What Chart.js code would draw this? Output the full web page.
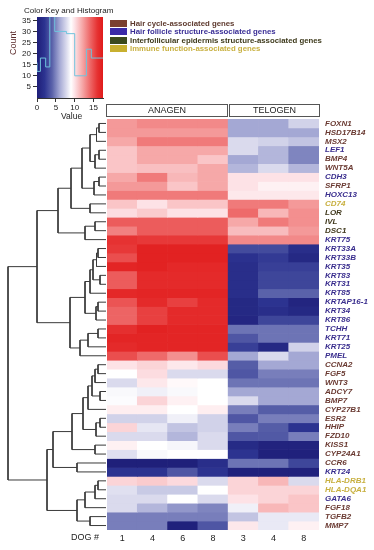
<!DOCTYPE html>
<html>
<head>
<meta charset="utf-8">
<script src="https://cdn.jsdelivr.net/npm/chart.js@4.4.0/dist/chart.umd.min.js"></script>
<style>
  body { margin: 0; width: 374px; height: 550px; position: relative; overflow: hidden; background: #fff;
         font-family: "Liberation Sans", Arial, sans-serif; color: #222; }
  canvas { position: absolute; }
  .t { position: absolute; white-space: nowrap; }
  .lg { position: absolute; left: 110px; height: 8px; display: flex; align-items: center;
        font: bold 7.8px "Liberation Sans", Arial, sans-serif; white-space: nowrap; }
  .sw { display: inline-block; width: 17px; height: 7px; margin-right: 3px; }
  .phase { position: absolute; top: 104px; height: 11px; border: 1px solid #555; text-align: center;
           font: 9px "Liberation Sans", Arial, sans-serif; line-height: 11px; }
</style>
</head>
<body>
<canvas id="key" width="112" height="122" style="left:0;top:0"></canvas>
<canvas id="dendro" width="107" height="455" style="left:0;top:95px"></canvas>
<canvas id="heat" width="267" height="455" style="left:107px;top:95px"></canvas>

<div class="t" style="left:24px;top:6px;font-size:8px">Color Key and Histogram</div>
<div class="t" style="left:1px;top:38px;font-size:9px;color:#5a2a2a;transform:rotate(-90deg)">Count</div>
<div class="t" style="left:61px;top:111px;font-size:8.5px">Value</div>

<div class="lg" style="top:19px"><span class="sw" style="background:#7a4030"></span><span style="color:#5e3a2e">Hair cycle-associated genes</span></div>
<div class="lg" style="top:27.5px"><span class="sw" style="background:#3a2aa8"></span><span style="color:#3a2e96">Hair follicle structure-associated genes</span></div>
<div class="lg" style="top:36px"><span class="sw" style="background:#3b4a1e"></span><span style="color:#3e3a1c">Interfollicular epidermis structure-associated genes</span></div>
<div class="lg" style="top:44.5px"><span class="sw" style="background:#c8b030"></span><span style="color:#c8b040">Immune function-associated genes</span></div>

<div class="phase" style="left:106px;width:120px">ANAGEN</div>
<div class="phase" style="left:229px;width:89px">TELOGEN</div>
<div class="t" style="left:71px;top:532px;font-size:9px">DOG #</div>

<script>
// column labels (dogs), 4 anagen + 3 telogen
const dogIds = ["1", "4", "6", "8", "3", "4", "8"];

const genes = [
  "FOXN1", "HSD17B14", "MSX2", "LEF1", "BMP4", "WNT5A", "CDH3", "SFRP1", "HOXC13", "CD74",
  "LOR", "IVL", "DSC1", "KRT75", "KRT33A", "KRT33B", "KRT35", "KRT83", "KRT31", "KRT85",
  "KRTAP16-1", "KRT34", "KRT86", "TCHH", "KRT71", "KRT25", "PMEL", "CCNA2", "FGF5", "WNT3",
  "ADCY7", "BMP7", "CYP27B1", "ESR2", "HHIP", "FZD10", "KISS1", "CYP24A1", "CCR6", "KRT24",
  "HLA-DRB1", "HLA-DQA1", "GATA6", "FGF18", "TGFB2", "MMP7"
];

const geneGroup = [
  "cycle", "cycle", "cycle", "follicle", "cycle", "cycle", "follicle", "cycle", "follicle", "immune",
  "epi", "epi", "epi", "follicle", "follicle", "follicle", "follicle", "follicle", "follicle", "follicle",
  "follicle", "follicle", "follicle", "follicle", "follicle", "follicle", "follicle", "cycle", "cycle", "cycle",
  "cycle", "cycle", "cycle", "cycle", "cycle", "cycle", "cycle", "cycle", "cycle", "follicle",
  "immune", "immune", "follicle", "cycle", "cycle", "cycle"
];

// expression per gene, columns follow dogIds
const expression = [
  [12.5, 13, 13, 13, 6, 6, 7.5],
  [12.5, 12.5, 12.5, 12.5, 6, 6, 6],
  [12, 13.5, 13.5, 13.5, 7.8, 7.5, 7],
  [11, 12, 12, 12, 7.8, 6.5, 5],
  [11, 12, 12, 11, 6, 6.5, 5],
  [11, 11.2, 11.2, 12, 6.5, 7.8, 6.5],
  [12, 13.5, 11.5, 12, 10, 10, 10],
  [12.5, 12.5, 11, 12, 10, 9.5, 9.5],
  [13.5, 13.5, 13.5, 13.5, 9.8, 9.8, 9.8],
  [11, 10, 11, 11, 13.5, 13.5, 12.5],
  [10.2, 10.8, 10, 10, 14, 11.5, 12.8],
  [14.5, 14.5, 14.5, 14.5, 12, 13.5, 12.8],
  [13.3, 14.5, 14.5, 14.5, 11.3, 11.3, 12.5],
  [16, 15.8, 15.8, 15.8, 13, 13, 13],
  [15.8, 17, 17, 17, 3, 3, 1.5],
  [15, 17, 17, 17, 1.8, 2.3, 1],
  [16.8, 17, 16.6, 16.6, 1.5, 2.5, 2.5],
  [14.5, 16.5, 16.5, 16.5, 1.5, 2.8, 2.8],
  [14.5, 16.5, 16.5, 16.5, 1.5, 2.8, 2.8],
  [16.6, 16.8, 16.8, 16.8, 1.5, 4, 4],
  [14.8, 16.5, 15.5, 16.5, 1, 2, 0.7],
  [14.2, 15.5, 16.5, 16.5, 1, 1.5, 1],
  [14.2, 15.5, 16.5, 16.5, 0.8, 2.8, 2.8],
  [16.2, 17, 16.8, 16.8, 4.5, 4.5, 4.5],
  [16.8, 16.8, 16.8, 16.8, 3.5, 4.5, 4.5],
  [16.5, 16.8, 16.8, 16.8, 2.5, 1, 7.5],
  [15, 14, 12.8, 15, 6, 7.8, 6],
  [10, 10.5, 9.8, 10.3, 3.8, 6, 6],
  [9, 10.2, 7.8, 7.8, 3.5, 4.8, 4.8],
  [7.8, 9.8, 9.2, 9, 4.5, 4.5, 4.5],
  [8.8, 8.5, 8.8, 9, 6, 6, 6],
  [8.9, 10.5, 9.5, 9, 7.8, 6, 6],
  [9.6, 9.6, 9, 9.6, 4.8, 3.8, 3.8],
  [7.5, 7.5, 8.5, 7.5, 3.5, 4.8, 4.8],
  [10.5, 8.2, 7, 7.5, 4.8, 3.8, 2],
  [7.8, 7.8, 6.5, 7.8, 3.5, 3.6, 4.8],
  [9.5, 9, 8.7, 7.8, 1.2, 0.5, 0.5],
  [8, 8.8, 9, 9, 2, 0.3, 0.3],
  [0.2, 0.2, 0.2, 1.5, 4.5, 4.5, 2.8],
  [2, 2, 3.5, 2, 0.3, 0.3, 0.3],
  [10.5, 10.8, 10.3, 7.8, 10.5, 11.5, 7.8],
  [8, 7.2, 7.2, 9, 10.5, 10.5, 10.5],
  [7.8, 7.8, 9, 7.8, 10, 10.5, 11],
  [7.8, 6.5, 5.5, 5, 8.5, 11.5, 11],
  [4.8, 4.8, 4.8, 4.8, 7, 8.3, 8.3],
  [4.8, 4.8, 0.3, 3.5, 9.8, 8.3, 9.5]
];

// row dendrogram: [left, right, height], leaves are row indexes
const rowTree = [
  [
    [
      [
        [
          [[[0, 1, 7], 2, 9.5], [[3, 4, 7], 5, 11], 16],
          [[6, 7, 7], 8, 12], 24
        ],
        [9, 10, 16], 35
      ],
      [[11, 12, 11], 13, 21], 48
    ],
    [
      [[[[[14, 15, 8], 16, 9.5], [17, 18, 6], 13], 19, 16], [[20, 21, 8], 22, 10], 21],
      [[[23, 24, 8], 25, 18], 26, 26], 36
    ],
    69
  ],
  [
    [
      [
        [[[[[27, 28, 8], 29, 11], [30, 31, 6], 14], 32, 18], [[33, 34, 6], 35, 10], 23],
        [36, 37, 11], 34
      ],
      [38, 39, 29], 53
    ],
    [[[[40, 41, 8], 42, 11], 43, 21], [44, 45, 16], 29],
    59
  ],
  98
];

// histogram of the colour key
const histEdges = [0, 0.9, 2.3, 3.4, 4.7, 7.8, 10.0, 13.1, 14.4, 15.9, 17.5];
const histCounts = [16, 12, 18, 14, 40, 30, 29, 10, 22, 18];
const keyTicksX = [0, 5, 10, 15];
const keyTicksY = [5, 10, 15, 20, 25, 30, 35];

const palette = [
  [0, "#1e1e78"], [2, "#2c3390"], [4, "#5a62aa"], [6, "#a4a8d4"], [8, "#e0e0f0"],
  [9, "#ffffff"], [10, "#fde2e6"], [12, "#f6a8a8"], [14, "#ee6a6a"], [16, "#e63232"], [17.5, "#e01a1a"]
];
const groupColors = { cycle: "#6a3a32", follicle: "#3a2e8e", epi: "#40381c", immune: "#c8b040" };
const FONT = "'Liberation Sans', Arial, sans-serif";

function hexToRgb(h) {
  return [1, 3, 5].map((i) => parseInt(h.slice(i, i + 2), 16));
}
function valueColor(v) {
  for (let i = 1; i < palette.length; i++) {
    if (v <= palette[i][0] || i === palette.length - 1) {
      const [v0, c0] = palette[i - 1];
      const [v1, c1] = palette[i];
      const t = Math.max(0, Math.min(1, (v - v0) / (v1 - v0)));
      const a = hexToRgb(c0), b = hexToRgb(c1);
      return "rgb(" + a.map((x, k) => Math.round(x + (b[k] - x) * t)).join(",") + ")";
    }
  }
}

// ---- colour key + histogram
new Chart(document.getElementById("key"), {
  type: "line",
  data: {
    datasets: [
      {
        data: histEdges.map((e, i) => ({ x: e, y: histCounts[Math.min(i, histCounts.length - 1)] })),
        stepped: "after",
        borderColor: "#6fc3dd",
        borderWidth: 1,
        pointRadius: 0,
        fill: false,
        order: 1,
      },
      {
        data: [{ x: 0, y: 36.5 }, { x: 17.5, y: 36.5 }],
        fill: "origin",
        borderWidth: 0,
        pointRadius: 0,
        order: 2,
        backgroundColor: (ctx) => {
          const area = ctx.chart.chartArea;
          if (!area) return "#ccc";
          const xs = ctx.chart.scales.x;
          const g = ctx.chart.ctx.createLinearGradient(area.left, 0, area.right, 0);
          palette.forEach(([v, c]) => {
            g.addColorStop((xs.getPixelForValue(v) - area.left) / (area.right - area.left), c);
          });
          return g;
        },
      },
    ],
  },
  options: {
    responsive: false,
    animation: false,
    layout: { padding: { top: 17, right: 9, left: 0, bottom: 0 } },
    plugins: { legend: { display: false }, tooltip: { enabled: false } },
    scales: {
      x: {
        type: "linear",
        min: 0,
        max: 17.5,
        afterBuildTicks: (s) => { s.ticks = keyTicksX.map((v) => ({ value: v })); },
        afterFit: (s) => { s.height = 24; },
        grid: { drawOnChartArea: false, tickLength: 4, color: "#333" },
        border: { color: "#333" },
        ticks: { font: { size: 8, family: FONT }, color: "#222", padding: 1, maxRotation: 0 },
      },
      y: {
        min: 0,
        max: 36.5,
        afterBuildTicks: (s) => { s.ticks = keyTicksY.map((v) => ({ value: v })); },
        afterFit: (s) => { s.width = 37; },
        grid: { drawOnChartArea: false, tickLength: 4, color: "#333" },
        border: { color: "#333" },
        ticks: { font: { size: 8, family: FONT }, color: "#222", padding: 2 },
      },
    },
  },
});

// ---- row dendrogram
const dendroPts = [];
function placeNode(node) {
  if (typeof node === "number") return { y: node + 0.5, h: 0 };
  const [l, r, h] = node;
  const a = placeNode(l), b = placeNode(r);
  dendroPts.push({ x: a.h, y: a.y }, { x: h, y: a.y }, { x: h, y: b.y }, { x: b.h, y: b.y }, { x: null, y: null });
  return { y: (a.y + b.y) / 2, h: h };
}
placeNode(rowTree);

new Chart(document.getElementById("dendro"), {
  type: "scatter",
  data: {
    datasets: [{
      data: dendroPts,
      showLine: true,
      spanGaps: false,
      borderColor: "#3a3a3a",
      borderWidth: 1,
      pointRadius: 0,
    }],
  },
  options: {
    responsive: false,
    animation: false,
    layout: { padding: { top: 24, bottom: 20, left: 6, right: 1 } },
    plugins: { legend: { display: false }, tooltip: { enabled: false } },
    scales: {
      x: { type: "linear", min: 0, max: 100, reverse: true, display: false },
      y: { type: "linear", min: 0, max: genes.length, reverse: true, display: false },
    },
  },
});

// ---- heatmap
const heatSets = genes.map((g, r) => ({
  label: g,
  data: expression[r].map(() => [r, r + 1]),
  backgroundColor: expression[r].map(valueColor),
}));

new Chart(document.getElementById("heat"), {
  type: "bar",
  data: { labels: dogIds, datasets: heatSets },
  options: {
    responsive: false,
    animation: false,
    layout: { padding: { top: 24, bottom: 0, left: 0, right: 0 } },
    datasets: { bar: { grouped: false, barPercentage: 1, categoryPercentage: 1, borderWidth: 0 } },
    plugins: { legend: { display: false }, tooltip: { enabled: false } },
    scales: {
      x: {
        type: "category",
        grid: { display: false, drawTicks: false },
        border: { display: false },
        afterFit: (s) => { s.height = 20; },
        ticks: { font: { size: 9, family: FONT }, color: "#222", padding: 3 },
      },
      y: {
        type: "linear",
        position: "right",
        min: 0,
        max: genes.length,
        reverse: true,
        grid: { display: false, drawTicks: false },
        border: { display: false },
        afterBuildTicks: (s) => { s.ticks = genes.map((g, i) => ({ value: i + 0.5 })); },
        afterFit: (s) => { s.width = 55; },
        ticks: {
          autoSkip: false,
          padding: 6,
          font: { size: 8, style: "italic", weight: "bold", family: FONT },
          color: (ctx) => groupColors[geneGroup[ctx.index]] || "#333",
          callback: (v, i) => genes[i],
        },
      },
    },
  },
});
</script>
</body>
</html>
